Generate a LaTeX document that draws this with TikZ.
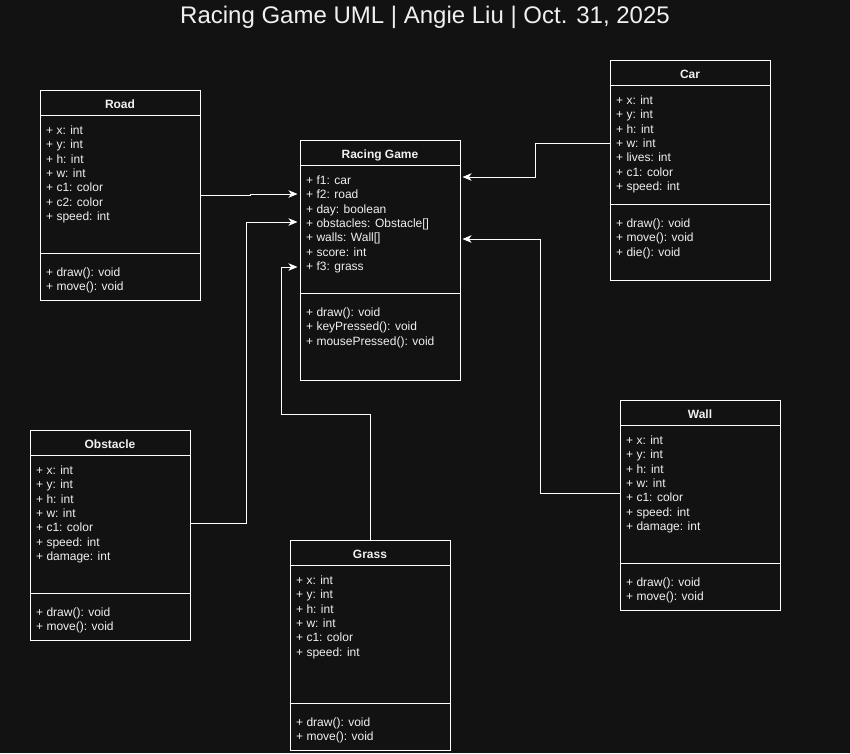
\documentclass[tikz,border=0pt]{standalone}
\usepackage{fontspec}
\setmainfont{Liberation Sans}
\usetikzlibrary{arrows.meta,calc}
\definecolor{bg}{HTML}{121212}
\definecolor{fg}{HTML}{F0F0F0}
\tikzset{
  classbox/.style={draw=white, line width=1pt, minimum width=160pt, inner sep=0pt, rectangle},
  sepline/.style={draw=white, line width=1pt},
  classtitle/.style={text=fg, font=\fontsize{12}{14.4}\selectfont\bfseries, anchor=base, inner sep=0pt},
  members/.style={text=fg, font=\fontsize{12}{14.4}\selectfont, anchor=north west, align=left, inner sep=0pt},
  assoc/.style={draw=white, line width=1pt, -{Stealth[length=9pt,width=7.5pt,inset=2.5pt]}, shorten >=2pt},
  maintitle/.style={text=fg, font=\fontsize{24}{28}\selectfont, anchor=base, inner sep=0pt},
}
% #1 name, #2 left, #3 top, #4 height, #5 divider offset, #6 title, #7 attributes, #8 methods
\newcommand\umlclass[8]{%
  \node[classbox, minimum height=#4pt] (#1) at (#2+80,#3+#4/2) {};
  \draw[sepline] ([yshift=-26pt]#1.north west) -- ([yshift=-26pt]#1.north east);
  \draw[sepline] ([yshift=-#5pt]#1.north west) -- ([yshift=-#5pt]#1.north east);
  \node[classtitle] (#1-title) at (#2+80,#3+18) {#6};
  \node[members] (#1-attrs) at (#2+6,#3+33) {\rule{0pt}{11pt}#7};
  \node[members] (#1-meths) at (#2+6,#3+#5+11) {\rule{0pt}{11pt}#8};
}
\begin{document}
\begin{tikzpicture}[x=1pt,y=-1pt]
\fill[bg] (0,0) rectangle (850,753);
\useasboundingbox (0,0) rectangle (850,753);

\node[maintitle] (title) at (425,23.5) {Racing Game UML | Angie Liu | Oct. 31, 2025};

\umlclass{road}{40}{90}{210}{164}{Road}%
  {+ x: int\\+ y: int\\+ h: int\\+ w: int\\+ c1: color\\+ c2: color\\+ speed: int}%
  {+ draw(): void\\+ move(): void}

\umlclass{car}{610}{60}{220}{145}{Car}%
  {+ x: int\\+ y: int\\+ h: int\\+ w: int\\+ lives: int\\+ c1: color\\+ speed: int}%
  {+ draw(): void\\+ move(): void\\+ die(): void}

\umlclass{game}{300}{140}{240}{154}{Racing Game}%
  {+ f1: car\\+ f2: road\\+ day: boolean\\+ obstacles: Obstacle[]\\+ walls: Wall[]\\+ score: int\\+ f3: grass}%
  {+ draw(): void\\+ keyPressed(): void\\+ mousePressed(): void}

\umlclass{obst}{30}{430}{210}{164}{Obstacle}%
  {+ x: int\\+ y: int\\+ h: int\\+ w: int\\+ c1: color\\+ speed: int\\+ damage: int}%
  {+ draw(): void\\+ move(): void}

\umlclass{wall}{620}{400}{210}{164}{Wall}%
  {+ x: int\\+ y: int\\+ h: int\\+ w: int\\+ c1: color\\+ speed: int\\+ damage: int}%
  {+ draw(): void\\+ move(): void}

\umlclass{grass}{290}{540}{210}{164}{Grass}%
  {+ x: int\\+ y: int\\+ h: int\\+ w: int\\+ c1: color\\+ speed: int}%
  {+ draw(): void\\+ move(): void}

\draw[assoc] (road.east) -- ++(50,0) |- ($(game.west)+(0,-66)$);
\draw[assoc] ($(car.west)+(0,-27)$) -- ++(-74,0) |- ($(game.east)+(0,-83)$);
\draw[assoc] ($(wall.west)+(0,-12)$) -- ++(-79,0) |- ($(game.east)+(0,-21)$);
\draw[assoc] ($(obst.east)+(0,-12)$) -- ++(56,0) |- ($(game.west)+(0,-38)$);
\draw[assoc] (grass.north) -- ++(0,-125) -- ++(-89,0) |- ($(game.west)+(0,7)$);
\end{tikzpicture}
\end{document}
